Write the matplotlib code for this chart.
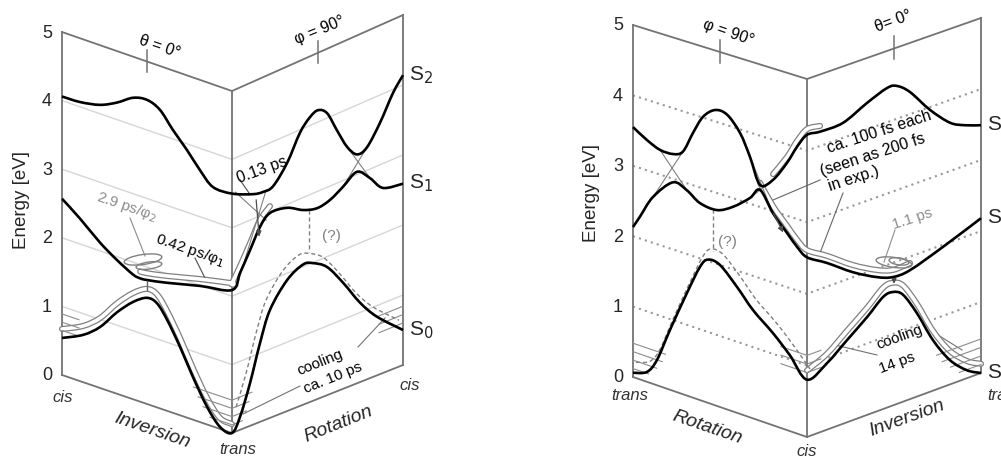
import numpy as np
import matplotlib.pyplot as plt
from matplotlib.patches import Ellipse, PathPatch
from matplotlib.path import Path

plt.rcParams['font.family'] = ['Liberation Sans', 'DejaVu Sans']

energy_ticks = [0, 1, 2, 3, 4, 5]
grid_levels = [1, 2, 3, 4]
vib_levels = [0.12, 0.24, 0.36, 0.48]

# ---- left scheme: inversion face (cis -> trans), rotation face (trans -> cis)
L_inv_u_S2 = [0, .106, .224, .324, .418, .5, .576, .653, .735, .812, .888, 1]
L_inv_S2 = [4.06, 4.07, 4.13, 4.25, 4.40, 4.44, 4.36, 4.13, 3.91, 3.68, 3.50, 3.50]
L_inv_u_S1 = [0, .106, .224, .324, .418, .46, .5, .618, .812, 1]
L_inv_S1 = [2.57, 2.37, 2.12, 1.95, 1.82, 1.80, 1.81, 1.87, 1.99, 2.09]
L_inv_u_S0 = [0, .124, .224, .324, .418, .5, .559, .618, .694, .771, .853, .929, 1]
L_inv_S0 = [.54, .69, .89, 1.19, 1.42, 1.55, 1.52, 1.33, 1.00, .62, .26, .03, 0]

L_rot_u_S2 = [0, .123, .181, .240, .322, .398, .456, .503, .556, .614, .673, .731, .789, .865, .942, 1]
L_rot_S2 = [3.52, 3.36, 3.33, 3.35, 3.60, 3.96, 4.12, 4.17, 4.07, 3.76, 3.46, 3.29, 3.33, 3.60, 3.95, 4.14]
L_rot_u_S1 = [0, .047, .105, .164, .222, .322, .415, .497, .573, .649, .731, .807, .883, 1]
L_rot_S1 = [2.09, 2.29, 2.56, 2.84, 2.98, 2.95, 2.82, 2.76, 2.80, 2.91, 3.04, 2.87, 2.65, 2.59]
L_rot_u_S0 = [0, .047, .105, .164, .222, .322, .415, .474, .556, .649, .749, .848, 1]
L_rot_S0 = [0, .19, .62, 1.15, 1.57, 1.90, 2.03, 1.99, 1.85, 1.53, 1.14, .84, .50]

# ---- right scheme: rotation face (trans -> cis), inversion face (cis -> trans)
R_rot_u_S2 = [0, .080, .155, .230, .287, .345, .402, .471, .540, .615, .672, .730, .805, .885, .943, 1]
R_rot_S2 = [3.55, 3.43, 3.35, 3.35, 3.43, 3.74, 4.01, 4.16, 4.15, 3.95, 3.66, 3.31, 3.44, 3.74, 4.01, 4.22]
R_rot_u_S1 = [0, .040, .115, .230, .310, .385, .483, .575, .672, .730, .805, .885, .943, 1]
R_rot_S1 = [2.13, 2.31, 2.65, 2.95, 2.90, 2.78, 2.76, 2.88, 3.08, 3.24, 2.97, 2.76, 2.61, 2.51]
R_rot_u_S0 = [0, .080, .138, .213, .310, .385, .431, .5, .598, .690, .805, .902, 1]
R_rot_S0 = [.06, .14, .36, .85, 1.45, 1.88, 2.02, 2.00, 1.77, 1.52, 1.29, 1.06, .80]

R_inv_u_S2 = [0, .075, .207, .345, .460, .517, .592, .707, .822, .908, 1]
R_inv_S2 = [4.22, 4.20, 4.21, 4.37, 4.48, 4.46, 4.31, 3.96, 3.68, 3.57, 3.49]
R_inv_u_S1 = [0, .115, .264, .402, .494, .592, .782, 1]
R_inv_S1 = [2.51, 2.33, 2.07, 1.88, 1.80, 1.81, 1.97, 2.18]
R_inv_u_S0 = [0, .115, .230, .345, .437, .494, .552, .632, .724, .822, .920, 1]
R_inv_S0 = [.80, .93, 1.15, 1.37, 1.57, 1.59, 1.50, 1.17, .71, .34, .11, 0]

# panel geometry in pixels: three vertical edges, y of E=0 and E=5
PANELS = {
    'L': dict(x=[62, 232, 403], y0=[375, 433, 365], y5=[32, 91, 15]),
    'R': dict(x=[633, 807, 981], y0=[377, 437, 373], y5=[25, 79, 18]),
}


def proj(panel, face, u, E):
    g = PANELS[panel]
    u = np.asarray(u, float)
    E = np.asarray(E, float)
    i, j = face, face + 1
    x = g['x'][i] + (g['x'][j] - g['x'][i]) * u
    y0 = g['y0'][i] + (g['y0'][j] - g['y0'][i]) * u
    y5 = g['y5'][i] + (g['y5'][j] - g['y5'][i]) * u
    return x, y0 + (y5 - y0) * E / 5.0


def both(panel, u0, e0, u1, e1, off=0.0):
    x0, y0 = proj(panel, 0, u0, np.asarray(e0) + off)
    x1, y1 = proj(panel, 1, u1, np.asarray(e1) + off)
    return np.r_[x0, x1[1:]], np.r_[y0, y1[1:]]


def part(panel, face, u, e, lo, hi, off=0.0):
    u = np.asarray(u, float)
    e = np.asarray(e, float)
    m = (u >= lo - 1e-9) & (u <= hi + 1e-9)
    return proj(panel, face, u[m], e[m] + off)


def smooth(x, y, **kw):
    # bezier path through the points (catmull-rom tangents)
    p = np.column_stack([x, y])
    ext = np.vstack([p[0], p, p[-1]])
    verts = [p[0]]
    codes = [Path.MOVETO]
    for i in range(len(p) - 1):
        a, b, c, d = ext[i], ext[i + 1], ext[i + 2], ext[i + 3]
        verts += [b + (c - a) / 6, c - (d - b) / 6, c]
        codes += [Path.CURVE4] * 3
    kw.setdefault('fill', False)
    ax.add_patch(PathPatch(Path(verts, codes), **kw))


def tube(pieces, zorder=2):
    x = np.concatenate([p[0] for p in pieces])
    y = np.concatenate([p[1] for p in pieces])
    smooth(x, y, ec='0.5', lw=4.4, capstyle='round', zorder=zorder)
    smooth(x, y, ec='white', lw=2.6, capstyle='round', zorder=zorder + 0.05)


fig = plt.figure(figsize=(10.01, 4.59), dpi=100)
ax = fig.add_axes([0, 0, 1, 1])
ax.set_xlim(0, 1001)
ax.set_ylim(459, 0)
ax.axis('off')

frame_col = '0.45'
for p, gstyle in (('L', dict(color='0.84', lw=1.0, ls='-')),
                  ('R', dict(color='0.6', lw=1.5, ls=(0, (1, 2))))):
    # grid lines on both faces
    for lev in grid_levels:
        x, y = both(p, [0, 1], [lev, lev], [0, 1], [lev, lev])
        ax.plot(x, y, zorder=1, **gstyle)
    # frame: vertical edges, floor and top
    for face, u in ((0, 0), (0, 1), (1, 1)):
        x, y = proj(p, face, [u, u], [0, 5])
        ax.plot(x, y, color=frame_col, lw=1.3, zorder=1.5)
    for lev in (0, 5):
        x, y = both(p, [0, 1], [lev, lev], [0, 1], [lev, lev])
        ax.plot(x, y, color=frame_col, lw=1.3, zorder=1.5)
    # tick marks in the middle of the top edges
    for face in (0, 1):
        x, y = proj(p, face, [.5, .5], [4.85, 5.17])
        ax.plot(x, y, color=frame_col, lw=1.1)
    # energy tick labels
    for t in energy_ticks:
        x, y = proj(p, 0, 0, t)
        ax.text(x - 15, y + 1, str(t), fontsize=13, ha='center', va='center', color='0.15')

# ---------------- left scheme ----------------
# vibrational levels (grey)
for lev in vib_levels:
    xa, ya = proj('L', 0, [np.interp(lev, L_inv_S0[::-1][:6], L_inv_u_S0[::-1][:6]) - .03, 1], [lev, lev])
    xb, yb = proj('L', 1, [0, np.interp(lev, L_rot_S0[:4], L_rot_u_S0[:4]) + .03], [lev, lev])
    ax.plot(np.r_[xa, xb], np.r_[ya, yb], color='0.55', lw=0.8, zorder=2.5)
for lev in (0.6, 0.72, 0.84):
    x, y = proj('L', 1, [.86, 1], [lev, lev])
    ax.plot(x, y, color='0.55', lw=0.8, zorder=2.5)
    x, y = proj('L', 0, [0, .1], [lev + .05, lev + .05])
    ax.plot(x, y, color='0.55', lw=0.8, zorder=2.5)

# wavepacket paths
tube([part('L', 0, L_inv_u_S0, L_inv_S0, 0, 1, off=.13)])
tube([tuple(a[::-1] for a in part('L', 1, L_rot_u_S1, L_rot_S1, 0, .222, off=.1)),
      tuple(a[::-1] for a in part('L', 0, L_inv_u_S1, L_inv_S1, .46, 1, off=.1))])

# dashed rotation path (?)
x, y = part('L', 1, L_rot_u_S0, L_rot_S0, .047, 1, off=.14)
smooth(x - 4, y, ec='0.5', lw=1, ls=(0, (3, 2)), zorder=2.6)
x, y = proj('L', 1, [.45, .45], [2.78, 2.17])
ax.plot(x, y, color='0.5', lw=1, ls=(0, (3, 2)), zorder=2.6)

# diabatic crossings
for (u0, e0, u1, e1) in ((.673, 3.46, .807, 2.87), (.649, 2.91, .789, 3.33),
                         (.02, 3.5, .2, 2.9), (.04, 2.2, .2, 3.34)):
    x, y = proj('L', 1, [u0, u1], [e0, e1])
    ax.plot(x, y, color='0.5', lw=0.8, zorder=2.5)

# potential curves
for (u0, e0, u1, e1) in ((L_inv_u_S2, L_inv_S2, L_rot_u_S2, L_rot_S2),
                         (L_inv_u_S1, L_inv_S1, L_rot_u_S1, L_rot_S1),
                         (L_inv_u_S0, L_inv_S0, L_rot_u_S0, L_rot_S0)):
    x, y = both('L', u0, e0, u1, e1)
    smooth(x, y, ec='black', lw=1.9, zorder=3, joinstyle='round')

# trapping loops in S1 and decay to S0
cx, cy = proj('L', 0, .5, 2.08)
ax.add_patch(Ellipse((cx - 4, cy - 2), 38, 10, angle=-8, fill=False, ec='0.5', lw=1, zorder=3.2))
ax.add_patch(Ellipse((cx + 2, cy + 4), 26, 7, angle=-8, fill=False, ec='0.5', lw=1, zorder=3.2))
x, y = proj('L', 0, [.5, .5], [1.8, 1.66])
ax.plot(x, y, color='0.4', lw=1, zorder=3.3)

# arrow S2 -> S1 (0.13 ps)
x0, y0 = proj('L', 1, .14, 3.3)
x1, y1 = proj('L', 1, .16, 2.66)
ax.annotate('', xy=(x1, y1), xytext=(x0, y0),
            arrowprops=dict(arrowstyle='-|>', color='0.3', lw=0.9, mutation_scale=8), zorder=4)
x, y = proj('L', 1, .1, 3.4)
ax.plot([240, x], [180, y], color='0.3', lw=0.8)

# annotation labels
ax.text(160, 47, 'θ = 0°', fontsize=11.5, rotation=-19, ha='center', va='center')
ax.text(320, 30, 'φ = 90°', fontsize=11.5, rotation=22, ha='center', va='center')
ax.text(262, 170, '0.13 ps', fontsize=11.5, rotation=20, ha='center', va='center')
ax.text(127, 207, '2.9 ps/φ$_2$', fontsize=11, rotation=-19, ha='center', va='center', color='0.55')
ax.text(190, 250, '0.42 ps/φ$_1$', fontsize=11, rotation=-19, ha='center', va='center')
ax.plot([130, 145], [218, 256], color='0.55', lw=0.8)
ax.plot([195, 205], [258, 278], color='0.3', lw=0.8)
ax.text(331, 236, '(?)', fontsize=11, ha='center', va='center', color='0.5')
ax.text(320, 362, 'cooling', fontsize=11, rotation=22, ha='center', va='center')
ax.text(333, 378, 'ca. 10 ps', fontsize=11, rotation=22, ha='center', va='center')
ax.plot([358, 385], [347, 318], color='0.45', lw=0.8)
ax.plot([300, 243], [386, 414], color='0.45', lw=0.8)
ax.text(63, 398, 'cis', fontsize=12, style='italic', ha='center', va='center', color='0.2')
ax.text(152, 431, 'Inversion', fontsize=14, style='italic', rotation=-19, ha='center', va='center', color='0.15')
ax.text(238, 450, 'trans', fontsize=12, style='italic', ha='center', va='center', color='0.2')
ax.text(338, 424, 'Rotation', fontsize=14, style='italic', rotation=22, ha='center', va='center', color='0.15')
ax.text(410, 386, 'cis', fontsize=12, style='italic', ha='center', va='center', color='0.2')
ax.text(22, 200, 'Energy [eV]', fontsize=13.5, rotation=90, ha='center', va='center', color='0.15')
for lab, e in (('S$_2$', 4.14), ('S$_1$', 2.59), ('S$_0$', 0.5)):
    x, y = proj('L', 1, 1, e)
    ax.text(x + 6, y, lab, fontsize=15, ha='left', va='center', color='0.15')

# ---------------- right scheme ----------------
for lev in vib_levels:
    x, y = proj('R', 0, [0, np.interp(lev, R_rot_S0[:4], R_rot_u_S0[:4]) + .03], [lev, lev])
    ax.plot(x, y, color='0.55', lw=0.8, zorder=2.5)
    xa, ya = proj('R', 1, [np.interp(lev, R_inv_S0[::-1][:5], R_inv_u_S0[::-1][:5]) - .04, 1], [lev, lev])
    ax.plot(xa, ya, color='0.55', lw=0.8, zorder=2.5)
for lev in (0.9, 1.02, 1.14):
    x, y = both('R', [.85, 1], [lev, lev], [0, .08], [lev, lev])
    ax.plot(x, y, color='0.55', lw=0.8, zorder=2.5)

tube([part('R', 1, R_inv_u_S0, R_inv_S0, 0, 1, off=.13)])
tube([part('R', 0, R_rot_u_S2, R_rot_S2, .805, 1, off=.08),
      part('R', 1, R_inv_u_S2, R_inv_S2, .075, .075, off=.08)])
tube([part('R', 0, R_rot_u_S1, R_rot_S1, .73, 1, off=.1),
      part('R', 1, R_inv_u_S1, R_inv_S1, .115, .6, off=.1)])

x, y = part('R', 0, R_rot_u_S0, R_rot_S0, .0, 1, off=.15)
smooth(x + 3, y, ec='0.5', lw=1, ls=(0, (3, 2)), zorder=2.6)
x, y = proj('R', 0, [.46, .46], [2.76, 2.17])
ax.plot(x, y, color='0.5', lw=1, ls=(0, (3, 2)), zorder=2.6)

for (u0, e0, u1, e1) in ((.155, 3.35, .31, 2.9), (.115, 2.65, .287, 3.43),
                         (.672, 3.66, .805, 2.97), (.672, 3.08, .805, 3.44)):
    x, y = proj('R', 0, [u0, u1], [e0, e1])
    ax.plot(x, y, color='0.5', lw=0.8, zorder=2.5)

for (u0, e0, u1, e1) in ((R_rot_u_S2, R_rot_S2, R_inv_u_S2, R_inv_S2),
                         (R_rot_u_S1, R_rot_S1, R_inv_u_S1, R_inv_S1),
                         (R_rot_u_S0, R_rot_S0, R_inv_u_S0, R_inv_S0)):
    x, y = both('R', u0, e0, u1, e1)
    smooth(x, y, ec='black', lw=1.9, zorder=3, joinstyle='round')

cx, cy = proj('R', 1, .5, 2.0)
ax.add_patch(Ellipse((cx, cy), 36, 10, angle=8, fill=False, ec='0.5', lw=1, zorder=3.2))
ax.add_patch(Ellipse((cx + 5, cy - 1), 20, 7, angle=8, fill=False, ec='0.5', lw=1, zorder=3.2))
x0, y0 = proj('R', 1, .5, 1.8)
x1, y1 = proj('R', 1, .5, 1.66)
ax.annotate('', xy=(x1, y1), xytext=(x0, y0),
            arrowprops=dict(arrowstyle='-|>', color='0.3', lw=0.9, mutation_scale=7), zorder=4)
x0, y0 = proj('R', 0, .8, 3.0)
x1, y1 = proj('R', 0, .87, 2.72)
ax.annotate('', xy=(x1, y1), xytext=(x0, y0),
            arrowprops=dict(arrowstyle='-|>', color='0.3', lw=0.9, mutation_scale=8), zorder=4)

ax.text(728, 32, 'φ = 90°', fontsize=11.5, rotation=-19, ha='center', va='center')
ax.text(893, 21, 'θ= 0°', fontsize=11.5, rotation=20, ha='center', va='center')
ax.text(879, 132, 'ca. 100 fs each', fontsize=11.5, rotation=18, ha='center', va='center')
ax.text(873, 155, '(seen as 200 fs', fontsize=11.5, rotation=18, ha='center', va='center')
ax.text(854, 179, 'in exp.)', fontsize=11.5, rotation=18, ha='center', va='center')
ax.plot([820, 773], [180, 200], color='0.4', lw=0.8)
ax.plot([843, 820], [193, 253], color='0.4', lw=0.8)
ax.text(912, 219, '1.1 ps', fontsize=11, rotation=18, ha='center', va='center', color='0.55')
ax.plot([895, 884], [230, 262], color='0.55', lw=0.8)
ax.text(727, 242, '(?)', fontsize=11, ha='center', va='center', color='0.5')
ax.text(900, 337, 'cooling', fontsize=11, rotation=20, ha='center', va='center')
ax.text(897, 363, '14 ps', fontsize=11, rotation=20, ha='center', va='center')
ax.plot([877, 835], [355, 345], color='0.45', lw=0.8)
ax.plot([930, 962], [330, 350], color='0.45', lw=0.8)
ax.text(630, 395, 'trans', fontsize=12, style='italic', ha='center', va='center', color='0.2')
ax.text(707, 428, 'Rotation', fontsize=14, style='italic', rotation=-19, ha='center', va='center', color='0.15')
ax.text(807, 452, 'cis', fontsize=12, style='italic', ha='center', va='center', color='0.2')
ax.text(907, 418, 'Inversion', fontsize=14, style='italic', rotation=20, ha='center', va='center', color='0.15')
ax.text(987, 396, 'trans', fontsize=12, style='italic', ha='left', va='center', color='0.2')
ax.text(592, 193, 'Energy [eV]', fontsize=13.5, rotation=90, ha='center', va='center', color='0.15')
for lab, e in (('S$_2$', 3.49), ('S$_1$', 2.18), ('S$_0$', 0)):
    x, y = proj('R', 1, 1, e)
    ax.text(x + 6, y, lab, fontsize=15, ha='left', va='center', color='0.15')

fig.savefig('out.png', dpi=100)
